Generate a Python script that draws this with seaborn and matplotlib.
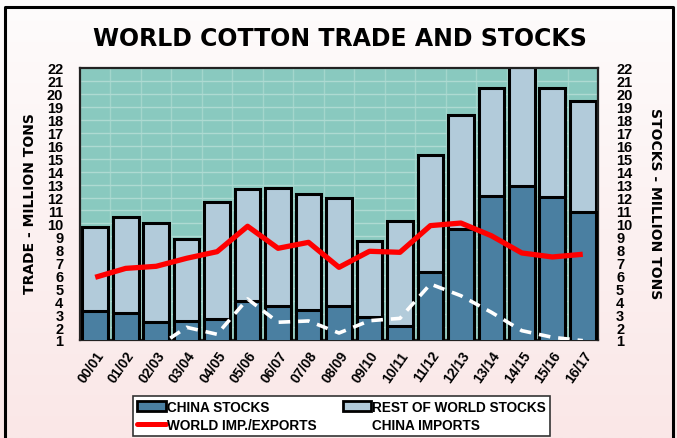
import numpy as np
import pandas as pd
import matplotlib
matplotlib.use("Agg")
import matplotlib.pyplot as plt
import seaborn as sns
from matplotlib.lines import Line2D
from matplotlib.patches import Patch
from matplotlib.colors import LinearSegmentedColormap

# ---------------- data ----------------
seasons = ["00/01", "01/02", "02/03", "03/04", "04/05", "05/06", "06/07", "07/08",
           "08/09", "09/10", "10/11", "11/12", "12/13", "13/14", "14/15", "15/16", "16/17"]
china_stocks = [3.26, 3.08, 2.37, 2.47, 2.62, 4.04, 3.65, 3.34, 3.60, 2.75, 2.10,
                6.23, 9.57, 12.10, 12.87, 12.07, 10.86]
rest_stocks = [6.44, 7.44, 7.66, 6.33, 9.01, 8.62, 9.11, 8.91, 8.34, 5.87, 8.11,
               9.08, 8.80, 8.33, 9.73, 8.36, 8.62]
world_trade = [5.84, 6.53, 6.69, 7.31, 7.82, 9.78, 8.08, 8.54, 6.61, 7.85, 7.77,
               9.83, 10.03, 9.05, 7.72, 7.41, 7.62]
china_imports = [0.05, 0.20, 0.43, 1.98, 1.44, 4.17, 2.37, 2.47, 1.54, 2.49, 2.67,
                 5.32, 4.42, 3.14, 1.72, 1.21, 0.95]
y_ticks = list(range(1, 23))

title = "WORLD COTTON TRADE AND STOCKS"
left_label = "TRADE - MILLION TONS"
right_label = "STOCKS - MILLION TONS"
legend_labels = ["CHINA STOCKS", "WORLD IMP./EXPORTS", "REST OF WORLD STOCKS", "CHINA IMPORTS"]

# ---------------- styling ----------------
CHINA_C = "#4A7FA1"
REST_C = "#B2CBDA"
PLOT_BG = "#89C9BF"
GRID_C = "#AEDAD2"
FONT = "Liberation Sans"

sns.set_style("white")
plt.rcParams["font.family"] = [FONT, "DejaVu Sans"]
plt.rcParams["text.color"] = "black"
plt.rcParams["xtick.color"] = "black"
plt.rcParams["ytick.color"] = "black"

W, H = 677, 439
fig = plt.figure(figsize=(W / 100, H / 100), dpi=100)

# background gradient
bg = fig.add_axes([0, 0, 1, 1], zorder=-10)
cmap = LinearSegmentedColormap.from_list("bgg", ["#FAE7E7", "#FEFCFC"])
bg.imshow(np.linspace(0, 1, 256).reshape(-1, 1), aspect="auto", cmap=cmap,
          extent=[0, 1, 0, 1], origin="lower")
bg.axis("off")

# figure border (left, top, right)
fig.add_artist(Line2D([5 / W, 5 / W, 673 / W, 673 / W], [0, 1 - 8 / H, 1 - 8 / H, 0],
                      color="black", lw=2.2, transform=fig.transFigure))

# main axes
L, R, T, B = 80, 598, 69, 341
ax = fig.add_axes([L / W, 1 - B / H, (R - L) / W, (B - T) / H])
ax.set_facecolor(PLOT_BG)

df = pd.DataFrame({"season": seasons, "china": china_stocks, "rest": rest_stocks,
                   "trade": world_trade, "imports": china_imports})
df["total"] = df["china"] + df["rest"]
df["pos"] = np.arange(len(df))

sns.barplot(data=df, x="season", y="total", color=REST_C, saturation=1,
            edgecolor="black", linewidth=2.2, width=0.84, ax=ax, zorder=2)
sns.barplot(data=df, x="season", y="china", color=CHINA_C, saturation=1,
            edgecolor="black", linewidth=2.2, width=0.84, ax=ax, zorder=3)
sns.lineplot(data=df, x="pos", y="trade", color="#FF0000", lw=3.8, ax=ax,
             zorder=5, solid_capstyle="butt")
sns.lineplot(data=df, x="pos", y="imports", color="white", lw=2.6, ax=ax,
             zorder=5, linestyle=(0, (3.2, 2.2)))

ax.set_xlim(-0.5, len(seasons) - 0.5)
ax.set_ylim(1, 22)
ax.set_xlabel("")
ax.set_ylabel("")
ax.set_yticks(y_ticks)
ax.set_yticklabels([str(v) for v in y_ticks], fontsize=10.5, fontweight="bold")
ax.set_xticks(np.arange(len(seasons)))
ax.set_xticklabels(seasons, rotation=55, ha="right", rotation_mode="anchor",
                   fontsize=10, fontweight="bold")
ax.set_xticks(np.arange(-0.5, len(seasons), 1), minor=True)
ax.tick_params(axis="y", length=0, pad=12)
ax.tick_params(axis="x", which="major", length=0, pad=6)
ax.tick_params(axis="x", which="minor", length=4, color="#999999", width=1)
ax.set_axisbelow(True)
ax.yaxis.grid(True, color=GRID_C, lw=1)
ax.xaxis.grid(True, which="minor", color="#A3D6CC", lw=1)
ax.xaxis.grid(False, which="major")
for s in ax.spines.values():
    s.set_visible(True)
    s.set_color("#222222")
    s.set_linewidth(1.6)
ax.get_legend() and ax.get_legend().remove()

ax2 = ax.twinx()
ax2.set_ylim(1, 22)
ax2.set_yticks(y_ticks)
ax2.set_yticklabels([str(v) for v in y_ticks], fontsize=10.5, fontweight="bold")
ax2.tick_params(axis="y", length=0, pad=13)
for s in ax2.spines.values():
    s.set_visible(False)

# title and axis labels
fig.text(340 / W, 1 - 39 / H, title, ha="center", va="center", fontsize=17,
         fontweight="heavy", family=["DejaVu Sans"], color="black")
fig.text(30 / W, 1 - 204 / H, left_label, rotation=90, ha="center", va="center",
         fontsize=10, fontweight="bold", family=["DejaVu Sans"], color="black")
fig.text(655 / W, 1 - 204 / H, right_label, rotation=270, ha="center", va="center",
         fontsize=10, fontweight="bold", family=["DejaVu Sans"], color="black")

# legend
handles = [Patch(facecolor=CHINA_C, edgecolor="black", lw=2),
           Line2D([], [], color="#FF0000", lw=3.6),
           Patch(facecolor=REST_C, edgecolor="black", lw=2),
           Line2D([], [], color="white", lw=2.6, linestyle=(0, (3.2, 2.2)))]
leg = fig.legend(handles, legend_labels, ncol=2, loc="upper left",
                 bbox_to_anchor=(133 / W, 1 - 397 / H), borderaxespad=0,
                 frameon=True, fancybox=False, edgecolor="#333333", facecolor="white",
                 framealpha=1, prop={"family": FONT, "weight": "bold", "size": 9.8},
                 handlelength=2.1, handleheight=0.75, handletextpad=0.1,
                 columnspacing=1.9, labelspacing=0.3, borderpad=0.3)
leg.get_frame().set_linewidth(1.2)
for t in leg.get_texts():
    t.set_color("black")

fig.savefig("out.png", dpi=100)
